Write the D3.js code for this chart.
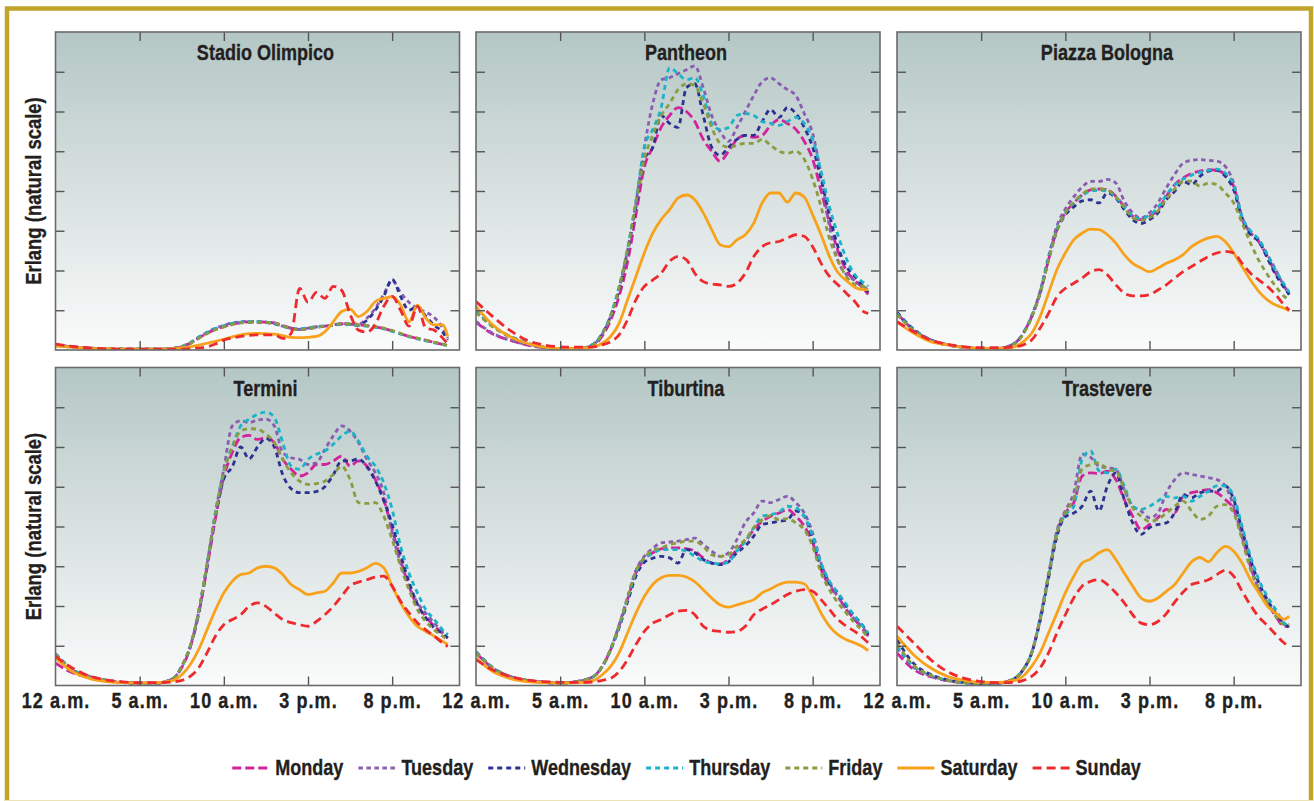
<!DOCTYPE html>
<html><head><meta charset="utf-8">
<script src="https://cdn.jsdelivr.net/npm/d3@7"></script>
<style>
body{margin:0;background:#fff}
svg{display:block}
text{font-family:"Liberation Sans",Arial,sans-serif;font-weight:bold;fill:#231f20;stroke:#231f20;stroke-width:0.35px}
</style>
</head><body>
<svg id="c" width="1314" height="801"></svg>
<script>
// ---------------- DATA ----------------
const hours = [0,1,2,3,4,5,6,7,7.5,8,8.5,9,9.5,10,10.5,11,11.5,12,12.5,13,13.5,14,14.5,15,15.5,16,16.5,17,17.5,18,18.5,19,19.5,20,20.5,21,21.5,22,22.5,23,23.3];
const days = ["Monday","Tuesday","Wednesday","Thursday","Friday","Saturday","Sunday"];
const stations = ["Stadio Olimpico","Pantheon","Piazza Bologna","Termini","Tiburtina","Trastevere"];
const xTickValues = [0,5,10,15,20];
const xTickLabels = ["12 a.m.","5 a.m.","10 a.m.","3 p.m.","8 p.m."];
const yTickValues = [1,2,3,4,5,6,7];
const yLabel = "Erlang (natural scale)";

// Stadio Olimpico
const olimpicoMon = [0.13,0.08,0.05,0.03,0.02,0.02,0.02,0.04,0.08,0.17,0.30,0.42,0.52,0.59,0.65,0.69,0.71,0.71,0.70,0.68,0.62,0.55,0.52,0.55,0.58,0.60,0.63,0.66,0.65,0.63,0.61,0.58,0.54,0.48,0.41,0.34,0.29,0.24,0.19,0.14,0.10];
const olimpicoTue = [0.12,0.07,0.04,0.03,0.02,0.02,0.02,0.04,0.09,0.18,0.32,0.45,0.55,0.62,0.68,0.71,0.72,0.72,0.70,0.67,0.60,0.54,0.52,0.55,0.58,0.60,0.63,0.66,0.66,0.65,0.80,1.05,1.40,1.75,1.45,1.20,1.05,0.95,0.82,0.55,0.30];
const olimpicoWed = [0.13,0.08,0.05,0.03,0.02,0.02,0.02,0.04,0.08,0.17,0.31,0.43,0.53,0.60,0.66,0.69,0.70,0.70,0.69,0.66,0.60,0.54,0.52,0.54,0.57,0.60,0.62,0.65,0.64,0.62,0.75,1.00,1.35,1.78,1.35,1.00,1.10,0.85,0.62,0.45,0.25];
const olimpicoThu = [0.12,0.07,0.04,0.03,0.02,0.02,0.02,0.04,0.09,0.18,0.32,0.44,0.54,0.61,0.67,0.70,0.72,0.72,0.70,0.67,0.60,0.54,0.53,0.56,0.59,0.61,0.63,0.65,0.64,0.62,0.60,0.57,0.53,0.47,0.40,0.33,0.28,0.23,0.18,0.14,0.11];
const olimpicoFri = [0.12,0.07,0.04,0.03,0.02,0.02,0.02,0.04,0.08,0.16,0.29,0.41,0.51,0.58,0.64,0.68,0.70,0.70,0.69,0.67,0.61,0.54,0.51,0.54,0.57,0.60,0.63,0.66,0.66,0.64,0.62,0.59,0.55,0.49,0.42,0.35,0.30,0.25,0.20,0.15,0.11];
const olimpicoSat = [0.10,0.07,0.04,0.03,0.02,0.02,0.02,0.03,0.05,0.08,0.12,0.17,0.22,0.27,0.33,0.38,0.41,0.42,0.41,0.40,0.36,0.32,0.31,0.32,0.34,0.46,0.71,0.97,1.03,0.84,0.97,1.22,1.30,1.34,1.13,0.71,1.13,0.80,0.63,0.63,0.34];
const olimpicoSun = [0.15,0.09,0.05,0.03,0.02,0.02,0.02,0.02,0.02,0.03,0.05,0.08,0.15,0.25,0.30,0.34,0.37,0.38,0.38,0.38,0.29,0.42,1.55,1.20,1.45,1.30,1.60,1.50,0.90,0.50,0.45,0.65,1.10,1.35,1.00,0.60,1.10,0.55,0.50,0.30,0.15];

// Pantheon
const pantheonMon = [0.70,0.40,0.25,0.13,0.06,0.03,0.03,0.12,0.35,0.75,1.35,2.20,3.40,4.60,5.10,5.60,5.90,6.10,6.00,5.75,5.30,5.00,4.75,5.00,5.30,5.40,5.35,5.40,5.65,5.80,5.70,5.55,5.25,4.80,4.00,3.20,2.50,2.00,1.75,1.55,1.40];
const pantheonTue = [0.72,0.42,0.25,0.14,0.06,0.03,0.03,0.15,0.40,0.85,1.55,2.50,3.70,5.10,6.20,6.80,6.85,6.95,7.05,7.15,6.60,5.90,5.50,5.25,5.60,6.00,6.40,6.75,6.85,6.70,6.55,6.40,5.95,5.45,4.40,3.10,2.25,1.90,1.75,1.60,1.50];
const pantheonWed = [0.95,0.60,0.35,0.18,0.08,0.03,0.03,0.15,0.42,0.85,1.50,2.45,3.60,4.80,5.10,5.90,5.70,5.60,6.60,6.70,5.90,5.10,4.90,5.10,5.30,5.40,5.40,5.75,6.05,5.85,6.10,5.95,5.60,5.10,4.30,3.40,2.60,2.10,1.85,1.60,1.45];
const pantheonThu = [1.00,0.60,0.35,0.18,0.08,0.03,0.03,0.15,0.42,0.88,1.60,2.55,3.75,5.10,5.55,6.10,7.10,6.95,6.80,6.85,6.40,5.70,5.55,5.60,5.90,5.95,5.90,5.75,5.70,5.65,5.75,5.85,5.70,5.30,4.50,3.60,2.90,2.30,1.90,1.70,1.60];
const pantheonFri = [0.95,0.58,0.33,0.17,0.07,0.03,0.03,0.14,0.40,0.85,1.55,2.50,3.70,4.80,5.40,5.90,6.20,6.55,6.70,6.65,6.20,5.60,5.20,5.10,5.15,5.20,5.20,5.30,5.15,5.00,4.95,5.00,4.80,4.30,3.60,2.80,2.25,1.85,1.65,1.60,1.55];
const pantheonSat = [1.10,0.63,0.34,0.17,0.08,0.04,0.04,0.08,0.17,0.34,0.67,1.26,1.85,2.44,2.94,3.28,3.53,3.82,3.90,3.78,3.45,3.03,2.65,2.60,2.77,2.90,3.19,3.70,3.95,3.95,3.72,3.95,3.85,3.40,2.90,2.35,1.95,1.75,1.58,1.52,1.52];
const pantheonSun = [1.22,0.84,0.50,0.25,0.13,0.08,0.07,0.08,0.13,0.21,0.38,0.76,1.26,1.60,1.76,1.93,2.23,2.35,2.27,1.93,1.72,1.66,1.64,1.60,1.68,1.93,2.35,2.60,2.70,2.73,2.82,2.90,2.86,2.60,2.18,1.85,1.64,1.43,1.22,0.97,0.92];

// Piazza Bologna
const bolognaMon = [0.92,0.50,0.25,0.13,0.07,0.04,0.04,0.17,0.42,0.84,1.43,2.27,3.03,3.45,3.70,3.90,4.03,4.05,4.03,3.87,3.61,3.36,3.28,3.36,3.53,3.87,4.16,4.33,4.44,4.50,4.54,4.52,4.41,4.12,3.30,2.95,2.72,2.35,1.93,1.60,1.43];
const bolognaTue = [0.92,0.50,0.25,0.13,0.07,0.04,0.04,0.17,0.42,0.86,1.48,2.35,3.12,3.55,3.85,4.10,4.24,4.24,4.29,4.20,3.75,3.45,3.32,3.45,3.70,4.08,4.42,4.70,4.77,4.79,4.77,4.75,4.62,4.20,3.35,2.95,2.77,2.40,2.02,1.60,1.43];
const bolognaWed = [0.95,0.52,0.26,0.13,0.07,0.04,0.04,0.17,0.42,0.84,1.43,2.27,3.00,3.40,3.60,3.75,3.78,3.70,3.95,3.82,3.53,3.28,3.18,3.28,3.45,3.78,3.99,4.24,4.16,4.37,4.50,4.52,4.37,4.03,3.30,2.90,2.73,2.31,1.89,1.57,1.39];
const bolognaThu = [0.92,0.50,0.25,0.13,0.07,0.04,0.04,0.17,0.42,0.85,1.45,2.30,3.05,3.45,3.70,3.88,4.00,4.02,4.00,3.85,3.60,3.38,3.30,3.40,3.58,3.90,4.15,4.30,4.40,4.47,4.52,4.55,4.45,4.15,3.35,3.00,2.78,2.40,2.00,1.65,1.45];
const bolognaFri = [0.90,0.48,0.24,0.12,0.07,0.04,0.04,0.16,0.40,0.82,1.42,2.25,3.00,3.45,3.72,3.92,4.05,4.05,4.02,3.85,3.58,3.33,3.26,3.33,3.50,3.80,4.05,4.24,4.25,4.12,4.20,4.16,3.95,3.70,3.20,2.69,2.25,1.90,1.60,1.35,1.26];
const bolognaSat = [0.71,0.42,0.21,0.13,0.07,0.04,0.04,0.08,0.21,0.42,0.84,1.43,2.02,2.44,2.77,2.94,3.04,3.03,2.90,2.69,2.40,2.18,2.06,1.97,2.06,2.18,2.27,2.40,2.60,2.73,2.82,2.86,2.73,2.44,2.10,1.76,1.47,1.26,1.13,1.05,0.99];
const bolognaSun = [0.71,0.46,0.25,0.14,0.08,0.06,0.06,0.08,0.13,0.25,0.55,0.92,1.34,1.55,1.68,1.81,1.97,2.02,1.89,1.64,1.43,1.36,1.36,1.39,1.51,1.64,1.81,1.97,2.10,2.23,2.35,2.44,2.48,2.44,2.18,1.93,1.76,1.60,1.39,1.13,1.00];

// Termini
const terminiMon = [0.56,0.32,0.20,0.12,0.07,0.06,0.06,0.18,0.45,0.95,1.78,2.95,4.20,5.25,5.86,6.24,6.29,6.19,6.24,6.11,5.69,5.44,5.27,5.35,5.56,5.56,5.65,5.77,5.52,5.65,5.52,5.18,4.68,3.92,3.17,2.50,2.00,1.74,1.49,1.32,1.19];
const terminiTue = [0.77,0.39,0.23,0.13,0.08,0.06,0.06,0.18,0.48,0.98,1.85,3.05,4.35,5.45,6.53,6.66,6.61,6.68,6.70,6.53,5.86,5.73,5.69,5.56,5.60,5.94,6.28,6.53,6.40,6.11,5.69,5.35,4.85,3.84,3.08,2.50,2.08,1.82,1.57,1.36,1.28];
const terminiWed = [0.80,0.40,0.23,0.13,0.08,0.06,0.06,0.18,0.48,0.98,1.82,3.00,4.26,5.20,5.50,6.00,5.70,6.00,6.22,6.00,5.30,4.95,4.85,4.85,4.88,5.00,5.30,5.65,5.65,5.70,5.50,5.15,4.65,4.05,3.30,2.60,2.05,1.70,1.45,1.30,1.20];
const terminiThu = [0.80,0.40,0.23,0.13,0.08,0.06,0.06,0.18,0.48,0.98,1.85,3.05,4.35,5.40,6.00,6.53,6.70,6.82,6.88,6.74,6.11,5.52,5.44,5.69,5.82,5.90,6.07,6.28,6.40,6.15,5.77,5.52,5.10,4.43,3.50,2.83,2.33,1.91,1.66,1.40,1.28];
const terminiFri = [0.78,0.39,0.23,0.13,0.08,0.06,0.06,0.18,0.48,0.98,1.85,3.05,4.30,5.35,6.00,6.40,6.46,6.45,6.32,6.11,5.69,5.35,5.14,5.06,5.08,5.14,5.31,5.52,5.18,4.60,4.58,4.60,4.26,3.67,3.00,2.41,1.91,1.61,1.40,1.24,1.15];
const terminiSat = [0.69,0.35,0.18,0.10,0.07,0.06,0.07,0.13,0.27,0.52,0.90,1.40,1.90,2.33,2.62,2.79,2.83,2.96,3.00,2.96,2.79,2.54,2.41,2.29,2.33,2.37,2.58,2.83,2.83,2.87,2.96,3.07,2.96,2.50,2.08,1.74,1.49,1.36,1.24,1.11,1.03];
const terminiSun = [0.73,0.44,0.24,0.14,0.09,0.07,0.07,0.09,0.13,0.23,0.44,0.82,1.24,1.53,1.66,1.78,1.99,2.08,1.99,1.82,1.66,1.58,1.53,1.49,1.61,1.78,1.99,2.25,2.51,2.60,2.66,2.73,2.75,2.50,2.12,1.83,1.58,1.40,1.24,1.07,0.98];

// Tiburtina
const tiburtinaMon = [0.82,0.44,0.23,0.13,0.08,0.06,0.10,0.23,0.48,0.90,1.49,2.16,2.83,3.17,3.34,3.44,3.46,3.46,3.44,3.38,3.21,3.08,3.06,3.17,3.42,3.63,3.92,4.13,4.26,4.34,4.43,4.26,4.01,3.59,2.92,2.50,2.24,1.91,1.66,1.40,1.24];
const tiburtinaTue = [0.82,0.44,0.23,0.13,0.08,0.06,0.10,0.23,0.48,0.92,1.52,2.22,2.90,3.25,3.45,3.59,3.61,3.63,3.67,3.71,3.55,3.38,3.25,3.34,3.67,4.10,4.34,4.64,4.60,4.68,4.76,4.60,4.34,3.84,3.08,2.58,2.24,1.91,1.66,1.45,1.28];
const tiburtinaWed = [0.85,0.45,0.23,0.13,0.08,0.06,0.10,0.23,0.48,0.90,1.45,2.10,2.75,3.10,3.20,3.25,3.21,3.08,3.42,3.34,3.17,3.08,3.04,3.11,3.34,3.51,3.76,4.05,4.09,4.13,4.17,4.39,4.26,3.67,3.00,2.58,2.33,2.00,1.74,1.49,1.28];
const tiburtinaThu = [0.85,0.45,0.23,0.13,0.08,0.06,0.10,0.23,0.48,0.90,1.49,2.18,2.85,3.20,3.32,3.42,3.42,3.42,3.38,3.25,3.13,3.08,3.06,3.11,3.38,3.63,3.97,4.26,4.30,4.36,4.51,4.47,4.26,3.76,3.08,2.62,2.33,2.04,1.74,1.49,1.32];
const tiburtinaFri = [0.82,0.44,0.23,0.13,0.08,0.06,0.10,0.23,0.48,0.92,1.52,2.20,2.88,3.22,3.40,3.46,3.55,3.59,3.63,3.63,3.50,3.29,3.25,3.29,3.50,3.67,3.97,4.17,4.27,4.17,4.20,4.09,3.92,3.50,2.83,2.41,2.08,1.82,1.57,1.36,1.19];
const tiburtinaSat = [0.69,0.35,0.18,0.10,0.07,0.06,0.07,0.13,0.27,0.48,0.82,1.32,1.82,2.24,2.54,2.71,2.77,2.77,2.73,2.61,2.41,2.20,2.03,1.97,2.03,2.09,2.16,2.33,2.43,2.54,2.60,2.60,2.56,2.24,1.82,1.49,1.28,1.15,1.07,0.97,0.88];
const tiburtinaSun = [0.65,0.39,0.23,0.14,0.10,0.08,0.08,0.09,0.13,0.18,0.35,0.65,1.03,1.36,1.57,1.66,1.78,1.87,1.89,1.78,1.49,1.39,1.36,1.34,1.36,1.49,1.78,1.92,2.03,2.16,2.29,2.37,2.41,2.37,2.16,1.91,1.66,1.49,1.36,1.19,1.07];

// Trastevere
const trastevereMon = [0.82,0.40,0.22,0.12,0.07,0.05,0.06,0.18,0.40,0.82,1.66,2.75,3.84,4.34,4.60,5.27,5.35,5.33,5.39,5.18,4.68,4.26,3.92,4.05,4.22,4.43,4.35,4.76,4.85,4.89,4.93,4.85,4.68,4.43,3.76,3.00,2.41,2.08,1.74,1.49,1.49];
const trastevereTue = [0.95,0.45,0.24,0.13,0.07,0.05,0.06,0.18,0.40,0.82,1.70,2.80,3.90,4.40,4.85,5.82,5.74,5.52,5.48,5.44,4.93,4.51,4.39,4.22,4.34,4.85,5.18,5.35,5.31,5.27,5.23,5.18,5.02,4.51,3.76,3.00,2.41,2.08,1.82,1.53,1.49];
const trastevereWed = [1.15,0.55,0.28,0.14,0.08,0.05,0.06,0.18,0.40,0.82,1.62,2.70,3.75,4.25,4.34,4.51,4.89,4.39,5.02,5.35,4.68,4.09,3.80,3.97,4.05,4.09,4.35,4.80,4.72,4.85,4.89,4.89,5.02,4.68,3.92,3.17,2.58,2.16,1.82,1.57,1.45];
const trastevereThu = [1.00,0.48,0.25,0.13,0.07,0.05,0.06,0.18,0.40,0.82,1.66,2.75,3.84,4.30,4.50,5.69,5.90,5.40,5.35,5.44,5.02,4.51,4.43,4.51,4.64,4.76,4.72,4.76,4.64,4.76,4.89,5.02,5.02,4.76,4.01,3.25,2.66,2.24,1.91,1.57,1.49];
const trastevereFri = [1.05,0.50,0.26,0.13,0.07,0.05,0.06,0.18,0.40,0.82,1.66,2.75,3.84,4.34,4.70,5.44,5.56,5.60,5.44,5.39,4.93,4.47,4.26,4.13,4.18,4.34,4.51,4.64,4.39,4.18,4.26,4.51,4.55,4.34,3.67,2.92,2.41,2.08,1.74,1.53,1.53];
const trastevereSat = [1.24,0.77,0.44,0.23,0.13,0.08,0.08,0.13,0.24,0.48,0.82,1.32,1.82,2.33,2.75,3.08,3.18,3.34,3.42,3.17,2.83,2.50,2.20,2.12,2.20,2.37,2.54,2.83,3.11,3.22,3.11,3.34,3.50,3.38,3.08,2.66,2.33,2.00,1.82,1.67,1.74];
const trastevereSun = [1.49,1.07,0.65,0.35,0.18,0.10,0.07,0.08,0.13,0.23,0.44,0.82,1.32,1.78,2.20,2.50,2.62,2.66,2.54,2.33,2.08,1.78,1.57,1.53,1.61,1.81,2.10,2.35,2.54,2.60,2.66,2.79,2.90,2.75,2.37,2.02,1.72,1.51,1.28,1.07,0.98];

const seriesByStation = [
  [olimpicoMon,olimpicoTue,olimpicoWed,olimpicoThu,olimpicoFri,olimpicoSat,olimpicoSun],
  [pantheonMon,pantheonTue,pantheonWed,pantheonThu,pantheonFri,pantheonSat,pantheonSun],
  [bolognaMon,bolognaTue,bolognaWed,bolognaThu,bolognaFri,bolognaSat,bolognaSun],
  [terminiMon,terminiTue,terminiWed,terminiThu,terminiFri,terminiSat,terminiSun],
  [tiburtinaMon,tiburtinaTue,tiburtinaWed,tiburtinaThu,tiburtinaFri,tiburtinaSat,tiburtinaSun],
  [trastevereMon,trastevereTue,trastevereWed,trastevereThu,trastevereFri,trastevereSat,trastevereSun]
];

// ---------------- STYLE ----------------
const dayStyle = {
  Monday:    {color:"#d2239b", dash:"9,4"},
  Tuesday:   {color:"#8a5db0", dash:"4.5,3.5"},
  Wednesday: {color:"#2d3192", dash:"5,4"},
  Thursday:  {color:"#1bb3c9", dash:"5,4"},
  Friday:    {color:"#8c9b3f", dash:"5,4"},
  Saturday:  {color:"#f8a21c", dash:null},
  Sunday:    {color:"#ee2a2e", dash:"9,5"}
};
const SX = 0.82; // horizontal condensing of the bold sans to mimic a condensed face

const svg = d3.select("#c");
svg.append("rect").attr("width",1314).attr("height",801).attr("fill","#fff");
const defs = svg.append("defs");
const grad = defs.append("linearGradient").attr("id","bg").attr("x1",0).attr("y1",0).attr("x2",0).attr("y2",1);
grad.append("stop").attr("offset","0%").attr("stop-color","#b4c7c5");
grad.append("stop").attr("offset","50%").attr("stop-color","#d8e1e0");
grad.append("stop").attr("offset","100%").attr("stop-color","#fafbfb");

// outer gold frame
svg.append("rect").attr("x",7).attr("y",8.5).attr("width",1304).attr("height",800)
  .attr("fill","none").attr("stroke","#c1a42c").attr("stroke-width",4.5);
svg.append("line").attr("x1",4).attr("x2",1313).attr("y1",800.5).attr("y2",800.5)
  .attr("stroke","#ebe2b6").attr("stroke-width",1.2);

function ctext(parent, tx, ty, str, size, anchor, rot){
  const t = parent.append("text")
    .attr("transform",`translate(${tx},${ty})${rot?` rotate(${rot})`:""} scale(${SX},1)`)
    .attr("text-anchor",anchor||"start").attr("font-size",size).text(str);
  return t;
}

const W = 404, H = 318;
const colX = [55.5, 476, 897];
const rowY = [32, 367.5];
const x = d3.scaleLinear().domain([0,24]).range([0,W]);
const y = d3.scaleLinear().domain([0,8]).range([H,0]);
const line = d3.line().x(d=>x(d[0])).y(d=>y(d[1])).curve(d3.curveMonotoneX);

function styleTicks(sel){
  sel.select(".domain").remove();
  sel.selectAll(".tick line").attr("stroke","#555").attr("stroke-width",1.4);
}

stations.forEach((name,i)=>{
  const col = i%3, row = Math.floor(i/3);
  const g = svg.append("g").attr("transform",`translate(${colX[col]},${rowY[row]})`);
  g.append("rect").attr("width",W).attr("height",H).attr("fill","url(#bg)");
  defs.append("clipPath").attr("id","clip"+i).append("rect").attr("width",W).attr("height",H);

  ctext(g, W/2+8, 28, name, 22, "middle");

  const lg = g.append("g").attr("clip-path",`url(#clip${i})`);
  days.forEach((d,j)=>{
    const vals = seriesByStation[i][j];
    const st = dayStyle[d];
    lg.append("path")
      .datum(hours.map((h,k)=>[h,vals[k]]))
      .attr("d",line)
      .attr("fill","none")
      .attr("stroke",st.color)
      .attr("stroke-width",2.8)
      .attr("stroke-dasharray",st.dash);
  });

  g.append("g").call(d3.axisLeft(y).tickValues(yTickValues).tickSize(-9).tickFormat("")).call(styleTicks);
  g.append("g").attr("transform",`translate(${W},0)`).call(d3.axisRight(y).tickValues(yTickValues).tickSize(-9).tickFormat("")).call(styleTicks);
  g.append("g").call(d3.axisTop(x).tickValues([5,10,15,20]).tickSize(-9).tickFormat("")).call(styleTicks);
  g.append("g").attr("transform",`translate(0,${H})`).call(d3.axisBottom(x).tickValues([5,10,15,20]).tickSize(-9).tickFormat("")).call(styleTicks);

  g.append("rect").attr("width",W).attr("height",H).attr("fill","none")
    .attr("stroke","#6b6b6b").attr("stroke-width",1.6);

  if(row===1){
    const ax = g.append("g").attr("transform",`translate(0,${H})`)
      .call(d3.axisBottom(x).tickValues(xTickValues).tickSize(0).tickPadding(0)
        .tickFormat((v,k)=>xTickLabels[k]));
    ax.select(".domain").remove();
    ax.attr("font-family",null).attr("font-size",null);
    ax.selectAll(".tick text")
      .attr("y",null).attr("dy",null)
      .attr("transform",`translate(0,22) scale(${SX},1)`)
      .attr("font-size",22).attr("fill","#231f20").style("letter-spacing","1.3px");
  }
  if(col===0){
    ctext(g, -15, H/2, yLabel, 22.5, "middle", -90);
  }
});

// legend
const leg = svg.append("g");
let lx = 0;
days.forEach(d=>{
  const it = leg.append("g").attr("transform",`translate(${lx},0)`);
  const st = dayStyle[d];
  it.append("line").attr("x1",0).attr("x2",37).attr("y1",-7).attr("y2",-7)
    .attr("stroke",st.color).attr("stroke-width",2.8).attr("stroke-dasharray",st.dash);
  const t = ctext(it, 43, 0, d, 22, "start");
  const w = t.node().getComputedTextLength()*SX;
  lx += 43 + w + 15;
});
const totalW = lx - 15;
leg.attr("transform",`translate(${686.5 - totalW/2},775)`);
</script>
</body></html>
